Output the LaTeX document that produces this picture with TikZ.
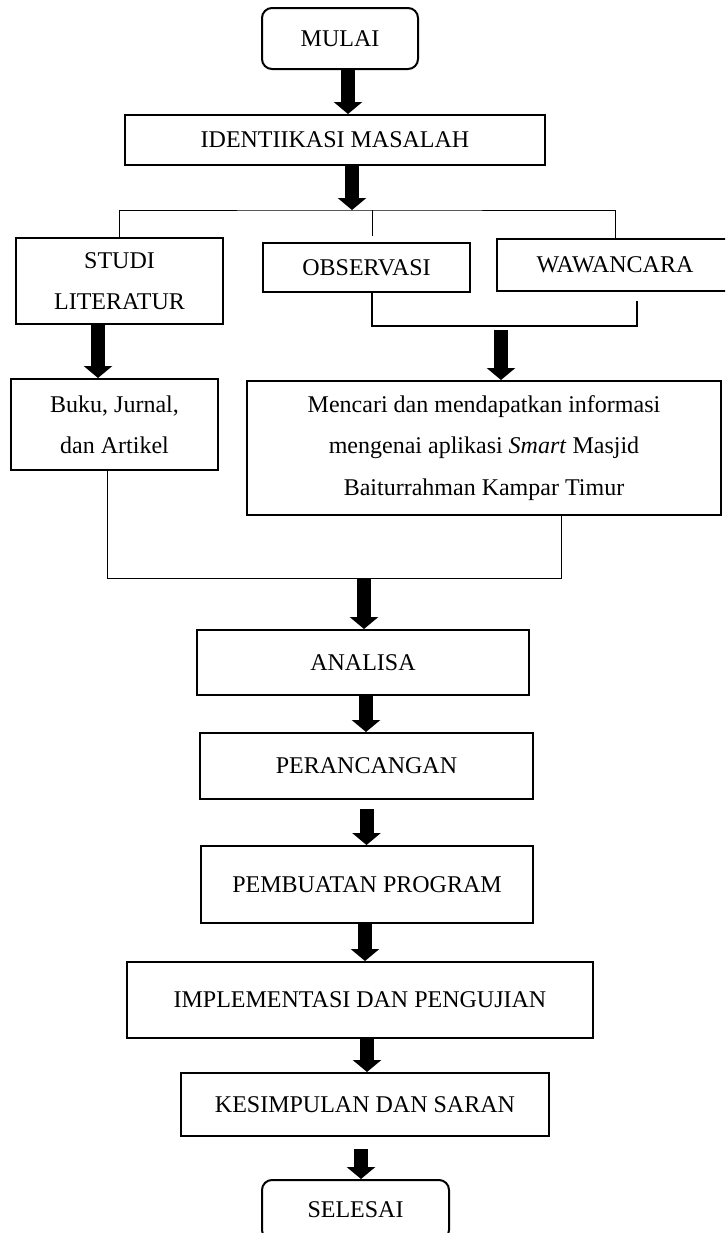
\documentclass[tikz,border=0pt]{standalone}
\usepackage{fontspec}
\setmainfont{Liberation Serif}
\usetikzlibrary{arrows.meta}

\begin{document}
\begin{tikzpicture}[x=0.5pt, y=-0.5pt,
	box/.style={draw, line width=1pt, inner sep=2pt, align=center, font=\fontsize{12}{20.7}\selectfont},
	startstop/.style={box, rounded corners=5pt},
	bigarrow/.style={line width=7pt, -{Triangle[width=14pt,length=6pt]}},
	link/.style={line width=0.5pt},
	bracket/.style={line width=1pt}]
	\useasboundingbox (0,0) rectangle (725,1233);
	\clip (0,0) rectangle (725,1233);

	% main column
	\node[startstop, minimum width=78pt, minimum height=30.5pt] (mulai) at (340,38.5) {MULAI};
	\node[box, minimum width=210pt, minimum height=25pt] (identifikasi) at (335,140) {IDENTIIKASI MASALAH};

	% data collection
	\node[box, minimum width=103.5pt, minimum height=43pt] (studi) at (119.5,281) {STUDI\\LITERATUR};
	\node[box, minimum width=103.5pt, minimum height=24.5pt] (observasi) at (366.5,267.5) {OBSERVASI};
	\node[box, minimum width=118pt, minimum height=26pt] (wawancara) at (615,265) {WAWANCARA};
	\node[box, minimum width=103.5pt, minimum height=45.5pt] (buku) at (114.5,424.5) {Buku, Jurnal,\\dan Artikel};
	\node[box, minimum width=237pt, minimum height=67pt] (mencari) at (484,448) {Mencari dan mendapatkan informasi\\mengenai aplikasi \textit{Smart} Masjid\\Baiturrahman Kampar Timur};

	% development steps
	\node[box, minimum width=166pt, minimum height=32.5pt] (analisa) at (363,662.5) {ANALISA};
	\node[box, minimum width=166.5pt, minimum height=33pt] (perancangan) at (366.5,766) {PERANCANGAN};
	\node[box, minimum width=166pt, minimum height=38.5pt] (pembuatan) at (367,884.5) {PEMBUATAN PROGRAM};
	\node[box, minimum width=233pt, minimum height=38pt] (implementasi) at (360,1000) {IMPLEMENTASI DAN PENGUJIAN};
	\node[box, minimum width=184pt, minimum height=31.5pt] (kesimpulan) at (365,1104.5) {KESIMPULAN DAN SARAN};
	\node[startstop, minimum width=93.5pt, minimum height=30pt] (selesai) at (355.5,1210) {SELESAI};

	\coordinate (split) at (352,210);
	\coordinate (merge) at (501,330);
	\coordinate (gather) at (364,578);

	\draw[bigarrow] ([xshift=4pt]mulai.south) -- ([xshift=4pt]mulai.south |- identifikasi.north);
	\draw[bigarrow] ([xshift=8.5pt]identifikasi.south) -- (split);
	\draw[link] (studi.north) |- (split) -| (wawancara.north);
	\draw[link] (split -| observasi.north) ++(2.75pt,0) -- ([xshift=2.75pt,yshift=3pt]observasi.north);

	\draw[bigarrow] ([xshift=-10.75pt]studi.south) -- ([xshift=-10.75pt]studi.south |- buku.north);
	\draw[bracket] ([xshift=2.75pt]observasi.south) |- ([xshift=11pt,yshift=-17pt]wawancara.south) -- ([xshift=11pt,yshift=-4.5pt]wawancara.south);
	\draw[bigarrow] (merge) -- (merge |- mencari.north);

	\draw[link] ([xshift=-3.75pt]buku.south) |- ([xshift=38.5pt]mencari.south |- gather) -- ([xshift=38.5pt]mencari.south);
	\draw[bigarrow] (gather) -- (gather |- analisa.north);
	\draw[bigarrow] ([xshift=1.5pt]analisa.south) -- ([xshift=1.5pt]analisa.south |- perancangan.north);
	\draw[bigarrow, shorten <=4.5pt] (perancangan.south) -- (perancangan.south |- pembuatan.north);
	\draw[bigarrow] ([xshift=-1pt]pembuatan.south) -- ([xshift=-1pt]pembuatan.south |- implementasi.north);
	\draw[bigarrow] ([xshift=3.5pt]implementasi.south) -- ([xshift=3.5pt]implementasi.south |- kesimpulan.north);
	\draw[bigarrow, shorten <=6pt] ([xshift=-2pt]kesimpulan.south) -- ([xshift=-2pt]kesimpulan.south |- selesai.north);
\end{tikzpicture}
\end{document}
